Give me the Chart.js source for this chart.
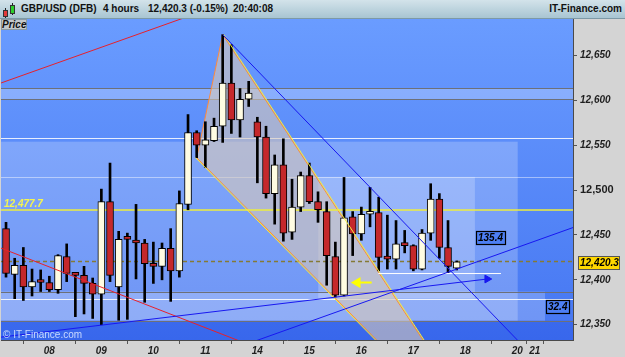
<!DOCTYPE html>
<html><head><meta charset="utf-8">
<script src="https://cdn.jsdelivr.net/npm/chart.js@4.4.1/dist/chart.umd.min.js"></script>
<style>
html,body{margin:0;padding:0;background:#d4d4d4;}
#wrap{position:relative;width:625px;height:357px;overflow:hidden;font-family:"Liberation Sans",Arial,sans-serif;}
#c{position:absolute;left:0;top:0;}
#hdr{position:absolute;left:0;top:0;width:625px;height:18px;background:linear-gradient(#d3e3ea,#a8c5d2);border-bottom:1px solid #7d99a6;z-index:2;}
#hdr span{position:absolute;top:3px;font-weight:bold;font-size:10px;color:#111;line-height:12px;white-space:nowrap;}
.w{position:absolute;width:1px;background:#222;}
.b{position:absolute;border:1px solid #333;}
#price{position:absolute;left:1px;top:19px;width:24px;height:9px;background:#c3c9cc;border:1px solid #8b9aa1;font:italic bold 10px "Liberation Sans",Arial,sans-serif;line-height:9px;text-align:center;color:#111;z-index:2;}
#copy{position:absolute;left:3px;top:329px;font-size:10px;line-height:12px;color:#c9d9ff;z-index:2;}
</style></head>
<body>
<div id="wrap">
<canvas id="c" width="625" height="357"></canvas>
<div id="hdr">
  <div class="w" style="left:5px;top:8px;height:10px"></div>
  <div class="b" style="left:3px;top:10px;width:3px;height:5px;background:#e23a3a"></div>
  <div class="w" style="left:12px;top:3px;height:12px"></div>
  <div class="b" style="left:10px;top:5px;width:3px;height:7px;background:#2ccf2c"></div>
  <span style="left:21px">GBP/USD (DFB)</span>
  <span style="left:103px">4 hours</span>
  <span style="left:148px">12,420.3 (-0.15%)</span>
  <span style="left:233px">20:40:08</span>
  <span style="right:3px">IT-Finance.com</span>
</div>
<div id="price">Price</div>
<div id="copy">© IT-Finance.com</div>
</div>
<script>
// ---- data ----
const dayLabels = ['08','09','10','11','14','15','16','17','18','20','21'];
const dayTicks  = [5,11,17,23,29,35,41,47,53,59,61];
const priceTicks = [12350,12400,12450,12500,12550,12600,12650];
const opens  = [12457,12406,12416,12392,12400,12397,12389,12426,12407,12405,12396,12384,12487,12392,12446,12444,12441,12418,12415,12435,12410,12484,12564,12550,12555,12571,12619,12578,12601,12576,12559,12496,12528,12453,12481,12516,12487,12476,12426,12383,12470,12451,12473,12475,12425,12423,12440,12438,12412,12452,12490,12436,12413];
const highs  = [12464,12424,12436,12412,12411,12404,12428,12440,12408,12415,12402,12501,12530,12454,12452,12484,12445,12442,12441,12457,12499,12584,12566,12576,12580,12673,12662,12613,12621,12581,12571,12539,12557,12512,12520,12530,12498,12487,12442,12514,12476,12481,12503,12492,12472,12466,12455,12439,12456,12507,12496,12466,12421];
const lows   = [12403,12379,12377,12382,12387,12387,12385,12398,12359,12362,12357,12350,12398,12355,12356,12401,12375,12396,12400,12376,12403,12478,12536,12525,12554,12553,12563,12559,12593,12508,12491,12462,12443,12445,12476,12485,12464,12394,12381,12382,12427,12444,12459,12410,12412,12412,12430,12410,12411,12444,12424,12408,12411];
const closes = [12407,12416,12392,12398,12397,12389,12427,12407,12405,12396,12384,12487,12405,12445,12445,12441,12418,12415,12435,12410,12485,12564,12550,12556,12571,12619,12578,12601,12608,12559,12496,12528,12452,12481,12516,12487,12478,12427,12383,12469,12451,12473,12475,12425,12423,12440,12438,12412,12452,12490,12436,12415,12420];
const lastPrice = 12420.3;
const refLevel = 12477.7;
// zones (candle index range, price range)
const zoneStart = [-0.58, 36.03, -0.58];
const zoneEnd   = [59.04, 54.1, 62.19];
const zoneLow   = [12354.5, 12379.2, 12354.5];
const zoneHigh  = [12553.8, 12514.6, 12386.9];
const zoneLabels = ['', '135.4', '32.4'];
const bandLevels = [12601.0, 12613.3];
const whiteLevels = [12558.2, 12514.6, 12379.2];
const greyLevels = [12613.3, 12601.0, 12386.9, 12354.5];
// drawn pattern (A, B, C, D)
const patternX = [22, 25, 50, 44.5];
const patternY = [12536, 12673, 12305, 12316];
// trend lines
const redUpperX = [-1, 22],      redUpperY = [12617.7, 12696.7];
const redLowerX = [-1, 30],      redLowerY = [12436.9, 12320.4];
const blueFallX = [25, 60],      blueFallY = [12673, 12323];
const blueArrowX = [-1, 55.52],  blueArrowY = [12335.7, 12400.9];
const blueRiseX = [25, 66],      blueRiseY = [12318.9, 12460.2];
const supportX = [42.96, 57.11], supportY = [12407, 12407];
const markerX = [40.53, 42.19],  markerY = [12397, 12397];

// ---- helpers ----
const X_MIN = -0.58, X_MAX = 65.42, Y_MIN = 12333, Y_MAX = 12690.4;
const FONT = '"Liberation Sans", Arial, sans-serif';
const pts = (xs, ys) => xs.map((x, k) => ({x, y: ys[k]}));
const fmt0 = v => { const s = Math.round(v).toString(); return s.slice(0, -3) + ',' + s.slice(-3); };
const fmt1 = v => { const [a, b] = v.toFixed(1).split('.'); return a.slice(0, -3) + ',' + a.slice(-3) + '.' + b; };
const idx = opens.map((_, i) => i);
const line = (data, color, order, extra) => Object.assign({type:'line', data, borderColor:color, borderWidth:1, pointRadius:0, tension:0, fill:false, order}, extra || {});

const P = pts(patternX, patternY);
const shift = 0.13;

const plugin = {
  id: 'deco',
  beforeDraw(chart) {
    const {ctx, chartArea: a} = chart;
    ctx.save();
    ctx.fillStyle = '#d4d4d4';
    ctx.fillRect(0, 0, chart.width, chart.height);
    const g = ctx.createLinearGradient(0, a.top, 0, a.bottom);
    g.addColorStop(0, '#6a9cff'); g.addColorStop(1, '#4576f2');
    ctx.fillStyle = g;
    ctx.fillRect(a.left, a.top, a.right - a.left, a.bottom - a.top);
    ctx.restore();
  },
  beforeDatasetsDraw(chart) {
    const {ctx, chartArea: a, scales: {x, y}} = chart;
    ctx.save();
    ctx.beginPath(); ctx.rect(a.left, a.top, a.right - a.left, a.bottom - a.top); ctx.clip();
    const rect = (x0, x1, v0, v1, fill) => {
      const X0 = x.getPixelForValue(x0), X1 = x.getPixelForValue(x1);
      const Y0 = y.getPixelForValue(v1), Y1 = y.getPixelForValue(v0);
      ctx.fillStyle = fill; ctx.fillRect(X0, Y0, X1 - X0, Y1 - Y0);
    };
    rect(X_MIN, X_MAX, bandLevels[0], bandLevels[1], 'rgba(255,255,255,0.25)');
    rect(X_MIN, X_MAX, Y_MIN, greyLevels[3], 'rgba(20,60,220,0.25)');
    zoneStart.forEach((s, k) => rect(s, zoneEnd[k], zoneLow[k], zoneHigh[k], 'rgba(255,255,255,0.22)'));
    const hl = (v, c) => {
      const Y = Math.round(y.getPixelForValue(v)) + 0.5;
      ctx.strokeStyle = c; ctx.lineWidth = 1;
      ctx.beginPath(); ctx.moveTo(a.left, Y); ctx.lineTo(a.right, Y); ctx.stroke();
    };
    whiteLevels.forEach((v, k) => hl(v, k === 1 ? 'rgba(255,255,255,0.45)' : 'rgba(255,255,255,0.85)'));
    greyLevels.forEach(v => hl(v, '#6d7078'));
    ctx.restore();
  },
  afterDatasetsDraw(chart) {
    const {ctx, chartArea: a, scales: {x, y}} = chart;
    ctx.save();
    ctx.font = 'italic bold 10px ' + FONT;
    ctx.fillStyle = '#f5f550';
    ctx.textBaseline = 'alphabetic';
    ctx.fillText(fmt1(refLevel), a.left + 3, y.getPixelForValue(refLevel) - 3);
    zoneLabels.forEach((t, k) => {
      if (!t) return;
      const X = Math.round(x.getPixelForValue(zoneEnd[k])) + 1;
      const Y = y.getPixelForValue((zoneLow[k] + zoneHigh[k]) / 2);
      const w = Math.ceil(ctx.measureText(t).width) + 3, h = 13;
      const top = Math.round(Y - h / 2);
      ctx.fillStyle = '#4d7ff4'; ctx.fillRect(X, top, w, h);
      ctx.strokeStyle = '#000'; ctx.lineWidth = 1.2; ctx.strokeRect(X + 0.5, top + 0.5, w, h);
      ctx.fillStyle = '#000'; ctx.textBaseline = 'middle'; ctx.textAlign = 'left';
      ctx.fillText(t, X + 2, top + h / 2 + 1);
    });
    ctx.restore();
  },
  afterDraw(chart) {
    const {ctx, chartArea: a, scales: {y}} = chart;
    ctx.save();
    ctx.font = 'italic bold 10px ' + FONT;
    const t = fmt1(lastPrice);
    const Y = Math.round(y.getPixelForValue(lastPrice));
    const X = a.right + 5, w = 41, h = 13;
    ctx.fillStyle = '#ffd700'; ctx.fillRect(X, Y - 6, w, h);
    ctx.strokeStyle = '#555'; ctx.lineWidth = 1; ctx.strokeRect(X + 0.5, Y - 6 + 0.5, w, h);
    ctx.fillStyle = '#000'; ctx.textBaseline = 'middle';
    ctx.fillText(t, X + 2, Y + 1);
    ctx.restore();
  }
};

new Chart(document.getElementById('c'), {
  type: 'bar',
  data: {
    datasets: [
      line([...P, P[0]], '#ff8a3d', 10, {fill: 'shape', backgroundColor: 'rgba(215,200,185,0.6)'}),
      line(pts(patternX.slice(1, 3).map(v => v + shift), patternY.slice(1, 3)), '#f4f040', 3),
      line(pts([patternX[0], patternX[3]].map(v => v - shift), [patternY[0], patternY[3]]), '#f4f040', 3),
      line(pts([X_MIN, X_MAX], [refLevel, refLevel]), '#eeee3c', 8, {borderWidth: 1.5}),
      line(pts([X_MIN, X_MAX], [lastPrice, lastPrice]), '#857a35', 8, {borderWidth: 1.5, borderDash: [4, 3]}),
      {type: 'bar', data: idx.map(i => ({x: i, y: [lows[i], highs[i]]})), backgroundColor: '#000', barThickness: 2, grouped: false, order: 6},
      {type: 'bar', data: idx.map(i => ({x: i, y: [Math.min(opens[i], closes[i]), Math.max(opens[i], closes[i])]})),
        backgroundColor: idx.map(i => closes[i] >= opens[i] ? '#fffce2' : '#c5282b'),
        borderColor: '#000', borderWidth: 1, borderSkipped: false, barThickness: 7, minBarLength: 3, grouped: false, order: 5},
      line(pts(redUpperX, redUpperY), '#e8202a', 2),
      line(pts(redLowerX, redLowerY), '#e8202a', 2),
      line(pts(blueFallX, blueFallY), '#1818f0', 2),
      line(pts(blueRiseX, blueRiseY), '#1818f0', 2),
      line(pts(blueArrowX, blueArrowY), '#1818f0', 1, {pointRadius: [0, 4.5], pointStyle: 'triangle', pointRotation: 90, pointBackgroundColor: '#1818f0', pointBorderColor: '#1818f0'}),
      line(pts(supportX, supportY), '#ffffff', 2),
      line(pts(markerX, markerY), '#ffff00', 1, {borderWidth: 2, pointRadius: [4.5, 0], pointStyle: 'triangle', pointRotation: -90, pointBackgroundColor: '#ffff00', pointBorderColor: '#ffff00'})
    ]
  },
  options: {
    responsive: false, animation: false, events: [], devicePixelRatio: 1,
    layout: {autoPadding: false, padding: {top: 19, left: 1, right: 0, bottom: 0}},
    plugins: {legend: {display: false}, tooltip: {enabled: false}},
    scales: {
      x: {
        type: 'linear', min: X_MIN, max: X_MAX, offset: false,
        afterBuildTicks: s => { s.ticks = dayTicks.map(v => ({value: v})); },
        afterFit: s => { s.height = 17; s.paddingLeft = 0; s.paddingRight = 0; },
        ticks: {autoSkip: false, maxRotation: 0, minRotation: 0, padding: 1, color: '#1e1e1e',
          font: {family: FONT, size: 10, weight: 'bold', style: 'italic'},
          callback: (v, i) => dayLabels[i]},
        grid: {display: true, drawOnChartArea: false, drawTicks: true, tickLength: 4, color: '#555'},
        border: {display: true, color: '#4a4a4a', width: 1}
      },
      y: {
        type: 'linear', position: 'right', min: Y_MIN, max: Y_MAX,
        afterBuildTicks: s => { s.ticks = priceTicks.map(v => ({value: v})); },
        afterFit: s => { s.width = 52; s.paddingTop = 0; s.paddingBottom = 0; },
        ticks: {padding: 3, color: '#1e1e1e',
          font: c => (c.tick && c.tick.value === 12500) ? {family: FONT, size: 11, weight: 'bold', style: 'normal'} : {family: FONT, size: 10, weight: 'bold', style: 'italic'},
          callback: v => fmt0(v)},
        grid: {display: true, drawOnChartArea: false, drawTicks: true, tickLength: 4, color: '#555'},
        border: {display: true, color: '#4a4a4a', width: 1}
      }
    }
  },
  plugins: [plugin]
});
</script>
</body></html>
